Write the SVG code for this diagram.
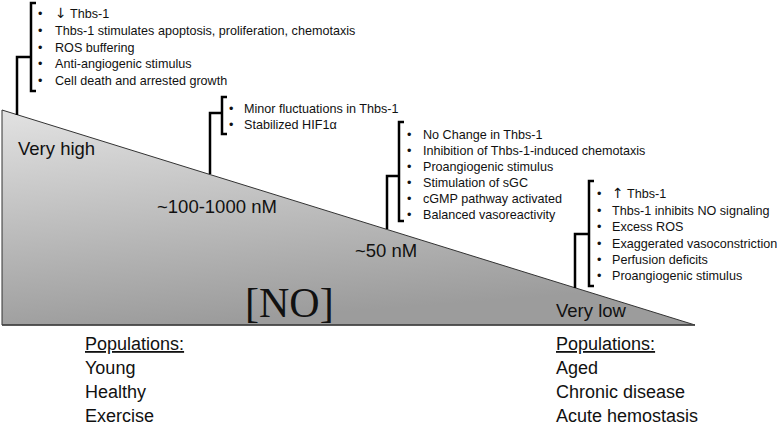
<svg xmlns="http://www.w3.org/2000/svg" width="777" height="427" viewBox="0 0 777 427">
<style>
.b{font-family:"Liberation Sans",Arial,sans-serif;font-size:12.6px;fill:#111}
.ar{font-family:"DejaVu Sans",sans-serif;font-size:14px}
.lbl{font-family:"Liberation Sans",Arial,sans-serif;font-size:18.5px;fill:#111}
.pop{font-family:"Liberation Sans",Arial,sans-serif;font-size:18px;fill:#111}
.br{fill:none;stroke:#000;stroke-width:2.5;stroke-linejoin:miter;stroke-linecap:butt}
</style>
<defs>
<linearGradient id="g" x1="0" y1="0" x2="0.25" y2="1">
<stop offset="0" stop-color="#e2e2e2"/>
<stop offset="1" stop-color="#9c9c9c"/>
</linearGradient>
</defs>
<rect width="777" height="427" fill="#fff"/>
<g id="wedge">
<polygon points="2,110 2,325 695,325" fill="url(#g)" stroke="#333" stroke-width="1"/>
<line x1="2" y1="325" x2="695" y2="325" stroke="#444" stroke-width="1.5"/>
</g>
<g id="connectors">
<path class="br" d="M17,115 V57 H31"/>
<path class="br" d="M36,3 H31 V91 H36"/>
<path class="br" d="M210,174 V113 H222"/>
<path class="br" d="M227,97 H222 V134 H227"/>
<path class="br" d="M387,229 V176 H399"/>
<path class="br" d="M404,122 H399 V221 H404"/>
<path class="br" d="M575,288 V234 H589"/>
<path class="br" d="M594,181 H589 V286 H594"/>
</g>
<g id="list-very-high" class="b">
<text x="38" y="18">•</text><text x="55" y="18"><tspan class="ar">↓</tspan> Thbs-1</text>
<text x="38" y="35">•</text><text x="55" y="35">Thbs-1 stimulates apoptosis, proliferation, chemotaxis</text>
<text x="38" y="51.5">•</text><text x="55" y="51.5">ROS buffering</text>
<text x="38" y="68">•</text><text x="55" y="68">Anti-angiogenic stimulus</text>
<text x="38" y="85">•</text><text x="55" y="85">Cell death and arrested growth</text>
</g>
<g id="list-high" class="b">
<text x="229" y="113">•</text><text x="244" y="113">Minor fluctuations in Thbs-1</text>
<text x="229" y="129">•</text><text x="244" y="129">Stabilized HIF1α</text>
</g>
<g id="list-mid" class="b">
<text x="407" y="139">•</text><text x="423" y="139">No Change in Thbs-1</text>
<text x="407" y="155">•</text><text x="423" y="155">Inhibition of Thbs-1-induced chemotaxis</text>
<text x="407" y="171">•</text><text x="423" y="171">Proangiogenic stimulus</text>
<text x="407" y="187">•</text><text x="423" y="187">Stimulation of sGC</text>
<text x="407" y="203">•</text><text x="423" y="203">cGMP pathway activated</text>
<text x="407" y="219">•</text><text x="423" y="219">Balanced vasoreactivity</text>
</g>
<g id="list-low" class="b">
<text x="597" y="198">•</text><text x="612" y="198"><tspan class="ar">↑</tspan> Thbs-1</text>
<text x="597" y="214.5">•</text><text x="612" y="214.5">Thbs-1 inhibits NO signaling</text>
<text x="597" y="231">•</text><text x="612" y="231">Excess ROS</text>
<text x="597" y="247.5">•</text><text x="612" y="247.5">Exaggerated vasoconstriction</text>
<text x="597" y="264">•</text><text x="612" y="264">Perfusion deficits</text>
<text x="597" y="280">•</text><text x="612" y="280">Proangiogenic stimulus</text>
</g>
<g id="levels" class="lbl">
<text x="18" y="155">Very high</text>
<text x="157" y="213">~100-1000 nM</text>
<text x="355" y="257">~50 nM</text>
<text x="556" y="317">Very low</text>
</g>
<g id="no-label">
<text x="245" y="317" font-family="'Liberation Serif','Times New Roman',serif" font-size="42" fill="#111">[NO]</text>
</g>
<g id="populations-left" class="pop">
<text x="85" y="350" text-decoration="underline">Populations:</text>
<text x="85" y="374">Young</text>
<text x="85" y="398">Healthy</text>
<text x="85" y="422">Exercise</text>
</g>
<g id="populations-right" class="pop">
<text x="556" y="350" text-decoration="underline">Populations:</text>
<text x="556" y="374">Aged</text>
<text x="556" y="398">Chronic disease</text>
<text x="556" y="422">Acute hemostasis</text>
</g>
</svg>
